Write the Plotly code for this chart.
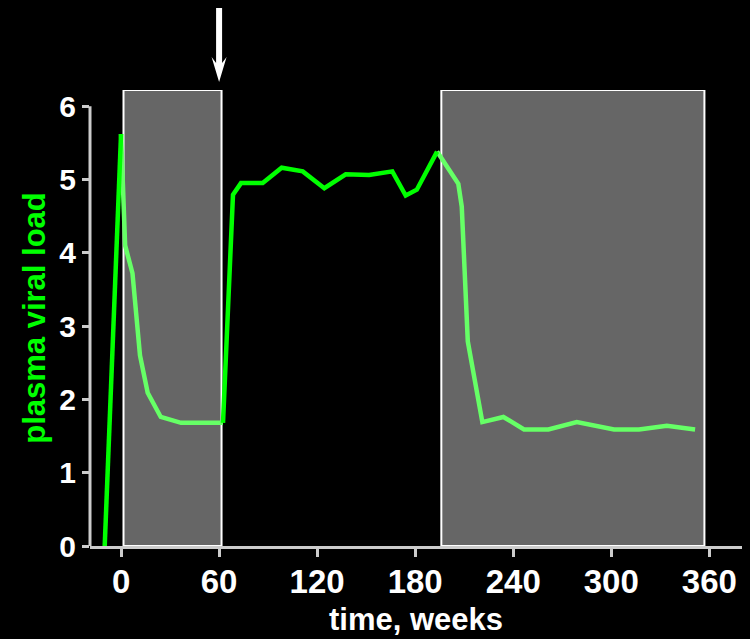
import plotly.graph_objects as go

# ---- data ----
untreated1_weeks = [-10, 0]
untreated1_load = [0.0, 5.62]

treated1_weeks = [0, 2.5, 7, 11.6, 16.3, 24.3, 36.7, 49.4, 62.4]
treated1_load = [5.62, 4.1, 3.72, 2.6, 2.09, 1.76, 1.68, 1.68, 1.68]

untreated2_weeks = [62.4, 68.5, 73.4, 86.7, 98.3, 111.2, 124.4, 137.5, 151.8, 166, 174.2, 181, 193.4]
untreated2_load = [1.68, 4.79, 4.95, 4.95, 5.16, 5.11, 4.88, 5.07, 5.06, 5.11, 4.78, 4.86, 5.38]

treated2_weeks = [193.4, 206.4, 208.5, 212.2, 221.1, 234, 246.6, 261.5, 278.9, 301.7, 317, 334, 351.3]
treated2_load = [5.38, 4.94, 4.63, 2.79, 1.69, 1.76, 1.59, 1.59, 1.69, 1.59, 1.59, 1.64, 1.59]

treatment_start = [1.5, 196]
treatment_end = [61.5, 357]
arrow_week = 60

x_ticks = [0, 60, 120, 180, 240, 300, 360]
y_ticks = [0, 1, 2, 3, 4, 5, 6]

BRIGHT = "#00ff00"
LIGHT = "#66ff66"
AXIS = "#cccccc"
FONT = "Liberation Sans, Arial, sans-serif"

fig = go.Figure()

for wk, ld in [(treated1_weeks, treated1_load), (treated2_weeks, treated2_load)]:
    fig.add_trace(go.Scatter(x=wk, y=ld, mode="lines",
                             line=dict(color=LIGHT, width=4.5), showlegend=False))
for wk, ld in [(untreated1_weeks, untreated1_load), (untreated2_weeks, untreated2_load)]:
    fig.add_trace(go.Scatter(x=wk, y=ld, mode="lines",
                             line=dict(color=BRIGHT, width=4.5), showlegend=False))

Y_TOP = 6.22
shapes = []
for s, e in zip(treatment_start, treatment_end):
    shapes.append(dict(type="rect", xref="x", yref="y", x0=s, x1=e, y0=0, y1=Y_TOP,
                       fillcolor="#666666", line=dict(color="white", width=2), layer="below"))
# y axis line ending at 6
shapes.append(dict(type="line", xref="paper", yref="y", x0=0, x1=0, y0=0, y1=6,
                   line=dict(color=AXIS, width=3), layer="above"))
# arrow above plot at arrow_week
shapes.append(dict(type="path", xref="x", yref="paper", xsizemode="pixel", ysizemode="pixel",
                   xanchor=arrow_week, yanchor=1,
                   path="M-3,82 L3,82 L3,27 L7.5,33 L0,8 L-7.5,33 L-3,27 Z",
                   fillcolor="white", line=dict(color="white", width=0)))

fig.update_layout(
    width=750, height=639,
    margin=dict(l=90, r=8, t=90, b=93),
    paper_bgcolor="black", plot_bgcolor="black",
    shapes=shapes,
    font=dict(family=FONT, color="white", size=31, weight="bold"),
    showlegend=False,
)
fig.update_xaxes(range=[-19, 380], tickvals=x_ticks, ticktext=[str(v) for v in x_ticks],
                 automargin=True,
                 showgrid=False, zeroline=False, showline=True, linecolor=AXIS, linewidth=3,
                 ticks="outside", ticklen=8, tickwidth=3, tickcolor=AXIS,
                 ticklabelstandoff=-4,
                 tickfont=dict(family=FONT, size=33, color="white", weight="bold"),
                 title=dict(text="time, weeks", standoff=10,
                            font=dict(family=FONT, size=31, color="white", weight="bold")))
fig.update_yaxes(range=[0, Y_TOP], tickvals=y_ticks, ticktext=[str(v) for v in y_ticks],
                 automargin=False,
                 showgrid=False, zeroline=False, showline=False,
                 ticks="outside", ticklen=7, tickwidth=3, tickcolor=AXIS,
                 tickfont=dict(family=FONT, size=30, color="white", weight="bold"),
                 title=dict(text="plasma viral load", standoff=4,
                            font=dict(family=FONT, size=31, color=BRIGHT, weight="bold")))

fig.write_html("out.html", config={"displayModeBar": False},
               post_script="document.body.style.margin='0';document.body.style.background='black';")
